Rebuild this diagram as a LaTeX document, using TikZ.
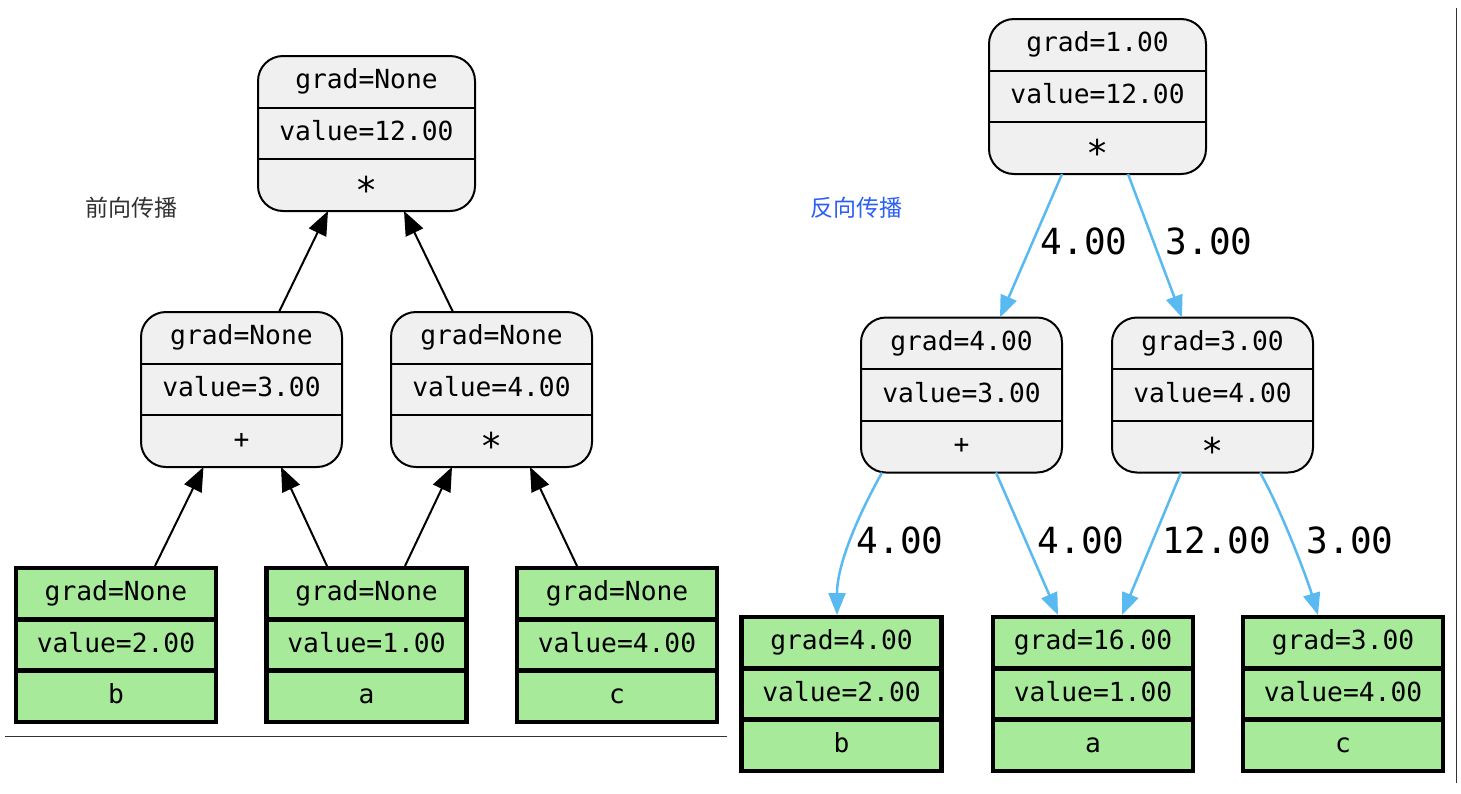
\documentclass[tikz,border=0pt]{standalone}
\usepackage{fontspec}
\newfontfamily\recfont{DejaVu Sans Mono}
\newfontfamily\cjkfont{Noto Sans CJK SC}
\usetikzlibrary{arrows.meta,calc}
\definecolor{nodegray}{RGB}{240,240,240}
\definecolor{leafgreen}{RGB}{166,234,154}
\definecolor{edgeblue}{RGB}{88,186,240}
\definecolor{labelblue}{RGB}{45,95,245}
\definecolor{sepgray}{RGB}{50,50,50}
\tikzset{
  opbox/.style={draw=black, line width=2pt, fill=nodegray, rounded corners=25pt,
    minimum width=201pt, minimum height=155pt, inner sep=0pt, outer sep=0pt},
  leafbox/.style={draw=black, line width=4.7pt, fill=leafgreen,
    minimum width=200pt, minimum height=154pt, inner sep=0pt, outer sep=0pt},
  opbox line/.style={line width=2pt},
  leafbox line/.style={line width=4.7pt},
  rectxt/.style={font=\recfont\fontsize{26.3}{30}\selectfont, inner sep=0pt,
    text height=19pt, text depth=5pt, anchor=center},
  fwd/.style={line width=2pt, draw=black, -{Triangle[length=24pt,width=19pt]}},
  bwd/.style={line width=2.5pt, draw=edgeblue, -{Triangle[length=22pt,width=17pt,fill=edgeblue]}},
  elabel/.style={font=\recfont\fontsize{36}{40}\selectfont, inner sep=0pt,
    text height=26pt, text depth=0pt},
  cjklabel/.style={font=\cjkfont\fontsize{23}{27}\selectfont, inner sep=0pt},
  sepline/.style={draw=sepgray, line width=1pt},
}
\newcommand\opstar{\raisebox{-11pt}{\scalebox{1.4}{*}}}
\newcommand\recbox[7]{%
  \node[#2,#4] (#1) at #3 {};
  \draw[#2 line] ($(#1.north west)!1/3!(#1.south west)$) -- ($(#1.north east)!1/3!(#1.south east)$);
  \draw[#2 line] ($(#1.north west)!2/3!(#1.south west)$) -- ($(#1.north east)!2/3!(#1.south east)$);
  \node[rectxt] (#1-1) at ($(#1.north)!1/6!(#1.south)$) {#5};
  \node[rectxt] (#1-2) at ($(#1.north)!1/2!(#1.south)$) {#6};
  \node[rectxt] (#1-3) at ($(#1.north)!5/6!(#1.south)$) {#7};
}
\begin{document}
\begin{tikzpicture}[x=1pt,y=-1pt]
\useasboundingbox[fill=white] (0,0) rectangle (1461,793);

% ---------- left: forward ----------
\recbox{T1}{opbox}{(366.5,133.5)}{minimum width=217pt}{grad=None}{value=12.00}{\opstar}
\recbox{M1}{opbox}{(241.5,389.5)}{}{grad=None}{value=3.00}{+}
\recbox{M2}{opbox}{(491.5,389.5)}{}{grad=None}{value=4.00}{\opstar}
\recbox{B1}{leafbox}{(116,645)}{}{grad=None}{value=2.00}{b}
\recbox{A1}{leafbox}{(366.5,645)}{}{grad=None}{value=1.00}{a}
\recbox{C1}{leafbox}{(617,645)}{}{grad=None}{value=4.00}{c}

\draw[fwd] ($(B1.north)+(39,-2)$) -- ($(M1.south)+(-38,0)$);
\draw[fwd] ($(A1.north)+(-39.5,-2)$) -- ($(M1.south)+(39.5,0)$);
\draw[fwd] ($(A1.north)+(38.5,-2)$) -- ($(M2.south)+(-39.5,0)$);
\draw[fwd] ($(C1.north)+(-40,-2)$) -- ($(M2.south)+(38.5,0)$);
\draw[fwd] ($(M1.north)+(37.5,0)$) -- ($(T1.south)+(-38.5,0)$);
\draw[fwd] ($(M2.north)+(-38.5,0)$) -- ($(T1.south)+(37.5,0)$);

\node[cjklabel, text=sepgray] (fwdlabel) at (131,208) {前向传播};
\draw[sepline] (5,736) -- (727,736);

% ---------- right: backward ----------
\recbox{T2}{opbox}{(1097.5,96.5)}{minimum width=217pt}{grad=1.00}{value=12.00}{\opstar}
\recbox{M3}{opbox}{(961.5,395)}{}{grad=4.00}{value=3.00}{+}
\recbox{M4}{opbox}{(1212.5,395)}{}{grad=3.00}{value=4.00}{\opstar}
\recbox{B2}{leafbox}{(841.5,694)}{}{grad=4.00}{value=2.00}{b}
\recbox{A2}{leafbox}{(1093,694)}{}{grad=16.00}{value=1.00}{a}
\recbox{C2}{leafbox}{(1343,694)}{}{grad=3.00}{value=4.00}{c}

\draw[bwd] ($(T2.south)+(-35.5,0)$) -- ($(M3.north)+(38.5,0)$);
\draw[bwd] ($(T2.south)+(30.5,0)$) -- ($(M4.north)+(-30.5,0)$);
\draw[bwd] ($(M3.south)+(-79.5,0)$) .. controls +(-25,45) and +(0,-50) .. ($(B2.north)+(-4.5,-2)$);
\draw[bwd] ($(M3.south)+(34.5,0)$) -- ($(A2.north)+(-35,-2)$);
\draw[bwd] ($(M4.south)+(-31.5,0)$) -- ($(A2.north)+(29,-2)$);
\draw[bwd] ($(M4.south)+(47.5,0)$) .. controls +(20,35) and +(-12,-40) .. ($(C2.north)+(-25,-2)$);

\node[elabel] (l1) at (1084,241) {4.00};
\node[elabel] (l2) at (1209,241) {3.00};
\node[elabel] (l3) at (900,540) {4.00};
\node[elabel] (l4) at (1081,540) {4.00};
\node[elabel] (l5) at (1217,540) {12.00};
\node[elabel] (l6) at (1350,540) {3.00};

\node[cjklabel, text=labelblue] (bwdlabel) at (856,208) {反向传播};
\draw[sepline] (1456,8) -- (1456,783);
\end{tikzpicture}
\end{document}
